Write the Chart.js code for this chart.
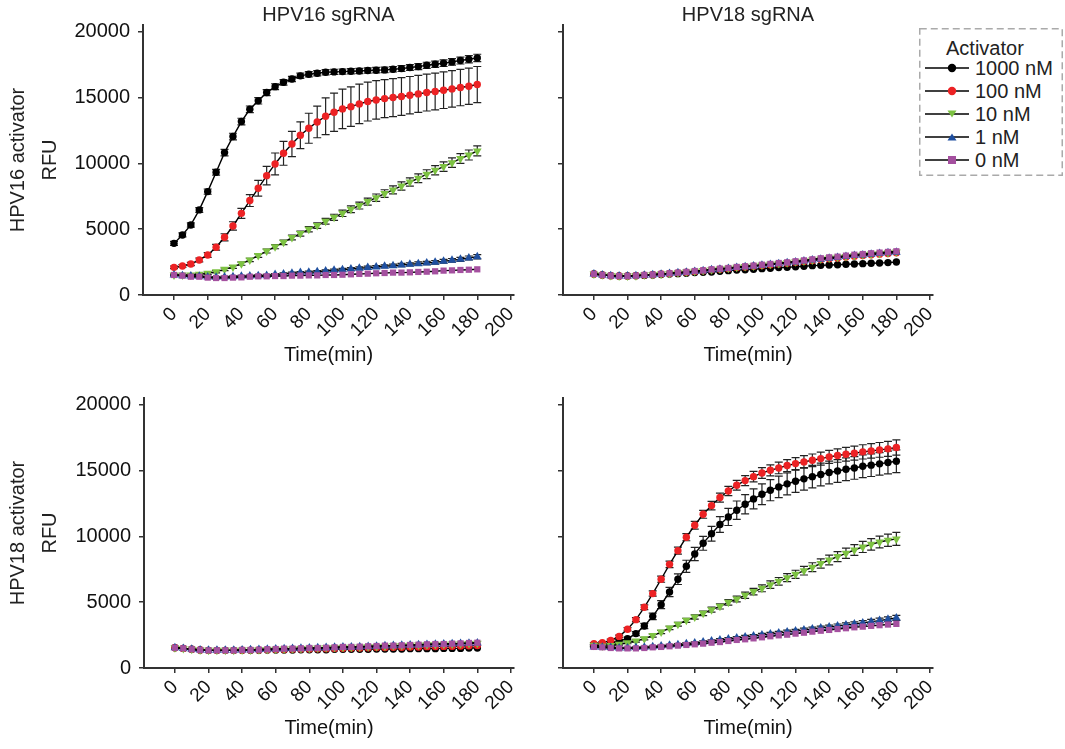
<!DOCTYPE html>
<html>
<head>
<meta charset="utf-8">
<script src="https://cdn.jsdelivr.net/npm/chart.js@4.4.1/dist/chart.umd.min.js"></script>
<style>
  body { margin: 0; background: #fff; font-family: "Liberation Sans", Arial, sans-serif; }
  #wrap { position: relative; width: 1065px; height: 749px; overflow: hidden; }
  canvas { position: absolute; }
  #legend { position: absolute; left: 919px; top: 28px; width: 144px; height: 148px;
            background: #fff; color: #222; font-size: 20px; }
  #legend .frame { position: absolute; left: 0; top: 0; }
  #legend .ttl { position: absolute; left: 27px; top: 8px; line-height: 24px; }
  #legend .row { position: absolute; left: 5px; height: 22px; line-height: 22px; white-space: nowrap; }
  #legend .row svg { position: absolute; left: 0; top: 1px; }
  #legend span { position: absolute; left: 51px; top: 0; }
</style>
</head>
<body>
<div id="wrap">
  <canvas id="tl" width="540" height="375" style="left:0;top:0"></canvas>
  <canvas id="tr" width="420" height="375" style="left:540px;top:0"></canvas>
  <canvas id="bl" width="540" height="375" style="left:0;top:373px"></canvas>
  <canvas id="br" width="420" height="375" style="left:540px;top:373px"></canvas>
  <div id="legend">
    <svg class="frame" width="144" height="148"><rect x="0.75" y="0.75" width="142.5" height="146.5" fill="#fff" stroke="#aaa" stroke-width="1.5" stroke-dasharray="7 4"/></svg>
    <div class="ttl">Activator</div>
  </div>
</div>
<script>
// time points (min)
const times = [0,5,10,15,20,25,30,35,40,45,50,55,60,65,70,75,80,85,90,95,100,105,110,115,120,125,130,135,140,145,150,155,160,165,170,175,180];
const xTicks = [0,20,40,60,80,100,120,140,160,180,200];
const yTicks = [0,5000,10000,15000,20000];

const seriesNames = ['1000 nM','100 nM','10 nM','1 nM','0 nM'];
const seriesColors = ['#000000','#ec2224','#7dc242','#1f4f9f','#a4509f'];
const seriesShapes = ['circle','circle','triangle','triangle','rect'];
const seriesRotation = [0,0,180,0,0];
const seriesRadius = [3.7,3.7,5,5,4.4];

// HPV16 activator / HPV16 sgRNA
const tl1000 = [3920,4560,5320,6460,7850,9320,10810,12030,13170,14100,14740,15370,15820,16150,16400,16640,16760,16840,16910,16940,16960,16990,17010,17040,17070,17090,17140,17190,17270,17340,17440,17520,17600,17700,17800,17900,18000];
const tl100 = [2100,2200,2350,2660,3040,3620,4380,5240,6200,7170,8100,9060,9950,10760,11470,12130,12660,13140,13570,13880,14130,14300,14510,14690,14810,14910,14990,15070,15170,15270,15370,15450,15550,15650,15750,15850,15980];
const tl10 = [1520,1520,1520,1570,1650,1770,1950,2130,2380,2660,2990,3340,3670,4000,4360,4660,4990,5270,5600,5900,6200,6510,6790,7090,7390,7700,7980,8280,8580,8860,9170,9470,9750,10050,10360,10630,10940];
const tl1 = [1520,1470,1440,1420,1370,1340,1370,1390,1420,1440,1470,1490,1550,1600,1650,1700,1720,1770,1820,1870,1920,1980,2030,2080,2130,2180,2230,2280,2330,2380,2430,2480,2560,2630,2710,2810,2910];
const tl0 = [1520,1470,1390,1390,1320,1290,1290,1320,1340,1390,1420,1420,1440,1440,1470,1470,1490,1490,1520,1520,1540,1570,1600,1620,1650,1670,1700,1700,1720,1750,1770,1800,1850,1870,1900,1920,1950];
const tl1000Err = [150,150,160,180,200,220,240,250,250,250,240,230,220,210,200,200,200,200,200,200,200,200,200,200,210,210,210,220,220,230,230,240,250,250,260,270,280];
const tl100Err = [100,100,120,150,180,220,270,320,380,450,600,700,830,910,960,1010,1140,1200,1400,1450,1500,1500,1500,1480,1460,1450,1440,1430,1420,1410,1400,1400,1390,1380,1380,1370,1370];
const tl10Err = [60,60,60,70,80,90,100,110,120,130,140,150,160,170,180,190,200,210,220,230,240,250,260,270,280,290,300,310,320,330,340,350,360,360,370,380,380];
const tl1Err = [60,60,60,60,60,60,60,60,70,70,70,70,80,80,80,80,90,90,90,90,100,100,100,110,110,110,120,120,120,130,130,130,140,140,150,150,160];

// HPV16 activator / HPV18 sgRNA
const tr1000 = [1600,1520,1470,1440,1440,1470,1490,1520,1550,1600,1620,1650,1700,1720,1750,1800,1850,1900,1920,1950,2000,2030,2080,2100,2150,2180,2230,2250,2280,2300,2330,2350,2380,2410,2430,2460,2510];
const tr100 = [1600,1520,1470,1440,1440,1470,1510,1540,1590,1630,1680,1730,1790,1840,1910,1960,2010,2080,2130,2180,2240,2300,2360,2410,2480,2550,2620,2690,2760,2810,2880,2950,3000,3050,3100,3150,3200];
const tr10 = [1600,1530,1480,1450,1450,1470,1510,1550,1590,1640,1690,1740,1800,1860,1920,1980,2030,2100,2160,2210,2270,2330,2400,2450,2520,2590,2660,2730,2800,2860,2930,3000,3050,3110,3160,3210,3260];
const tr1 = [1600,1520,1470,1440,1440,1460,1500,1540,1580,1630,1680,1730,1790,1850,1910,1960,2020,2090,2140,2200,2260,2320,2380,2440,2510,2580,2650,2720,2790,2850,2920,2990,3040,3100,3150,3200,3250];
const tr0 = [1600,1520,1470,1440,1440,1470,1520,1550,1600,1650,1700,1750,1820,1870,1950,2000,2050,2130,2180,2230,2300,2360,2430,2480,2560,2630,2710,2790,2860,2910,2990,3060,3110,3170,3220,3270,3320];

// HPV18 activator / HPV16 sgRNA
const bl1000 = [1540,1490,1420,1370,1340,1340,1340,1340,1340,1340,1340,1370,1370,1370,1370,1390,1390,1390,1390,1420,1420,1420,1420,1420,1440,1440,1440,1440,1470,1470,1470,1470,1490,1490,1490,1520,1520];
const bl100 = [1540,1490,1420,1370,1340,1340,1340,1340,1350,1360,1370,1390,1400,1410,1420,1440,1450,1460,1470,1490,1500,1510,1520,1540,1550,1560,1570,1580,1590,1600,1620,1630,1640,1650,1670,1680,1700];
const bl10 = [1540,1490,1420,1370,1340,1340,1340,1340,1360,1370,1390,1410,1430,1450,1460,1480,1500,1510,1530,1550,1570,1580,1600,1620,1640,1660,1680,1700,1720,1740,1760,1780,1800,1820,1840,1860,1880];
const bl1 = [1540,1490,1420,1370,1340,1340,1340,1340,1370,1380,1400,1420,1440,1460,1480,1500,1510,1530,1550,1570,1590,1600,1620,1640,1660,1680,1700,1720,1740,1760,1780,1800,1820,1840,1860,1880,1900];
const bl0 = [1540,1490,1420,1370,1340,1340,1340,1340,1370,1370,1390,1420,1440,1470,1470,1490,1520,1520,1540,1570,1600,1600,1620,1650,1670,1700,1700,1720,1750,1770,1800,1820,1820,1850,1870,1900,1920];

// HPV18 activator / HPV18 sgRNA
const br1000 = [1720,1770,1900,2050,2230,2610,3190,3920,4810,5770,6740,7720,8660,9470,10200,10890,11470,11980,12430,12840,13190,13500,13750,13980,14180,14360,14530,14690,14840,14960,15090,15190,15320,15400,15500,15600,15700];
const br100 = [1850,1920,2100,2400,2940,3670,4610,5650,6740,7870,8910,9930,10840,11670,12330,12940,13440,13880,14230,14530,14810,15010,15190,15370,15520,15650,15770,15900,16030,16130,16230,16310,16410,16480,16560,16640,16740];
const br10 = [1720,1670,1700,1800,1920,2050,2230,2460,2730,3040,3320,3620,3870,4150,4430,4680,4990,5240,5520,5800,6050,6330,6580,6860,7110,7390,7650,7930,8200,8460,8710,8960,9190,9390,9570,9700,9800];
const br1 = [1600,1570,1550,1520,1520,1550,1570,1620,1670,1720,1770,1850,1900,1980,2050,2130,2200,2280,2360,2430,2510,2580,2660,2740,2810,2890,2960,3040,3110,3190,3270,3340,3420,3520,3600,3700,3800];
const br0 = [1600,1570,1520,1490,1490,1490,1520,1570,1600,1650,1700,1750,1800,1850,1920,1970,2050,2130,2180,2250,2330,2410,2480,2530,2610,2680,2760,2830,2890,2960,3020,3090,3140,3200,3250,3300,3350];
const br1000Err = [80,80,90,100,120,150,200,250,300,350,400,460,500,530,560,600,650,700,730,760,790,800,820,830,840,850,850,860,860,860,860,860,860,860,860,860,860];
const br100Err = [80,80,90,100,120,150,180,200,230,250,260,270,290,300,320,340,350,370,380,400,410,420,440,450,460,470,480,490,500,510,520,530,540,550,560,570,580];
const br10Err = [60,60,60,70,80,90,100,110,120,130,140,150,160,170,190,200,210,220,240,250,260,280,290,300,310,330,340,350,370,380,390,410,420,440,450,470,490];
const br1Err = [60,60,60,60,60,60,70,70,70,80,80,80,90,90,90,100,100,100,110,110,120,120,120,130,130,140,140,140,150,150,160,160,170,170,180,180,190];

const errorBars = {
  id: 'errorBars',
  beforeDatasetsDraw(chart) {
    const {ctx, scales: {x, y}} = chart;
    ctx.save();
    ctx.strokeStyle = '#222';
    ctx.lineWidth = 1.2;
    chart.data.datasets.forEach(ds => {
      if (!ds.errors) return;
      ds.data.forEach((p, i) => {
        const e = ds.errors[i];
        const px = x.getPixelForValue(p.x);
        const top = y.getPixelForValue(p.y + e), bot = y.getPixelForValue(p.y - e);
        ctx.beginPath();
        ctx.moveTo(px, top); ctx.lineTo(px, bot);
        ctx.moveTo(px - 4, top); ctx.lineTo(px + 4, top);
        ctx.moveTo(px - 4, bot); ctx.lineTo(px + 4, bot);
        ctx.stroke();
      });
    });
    ctx.restore();
  }
};

function makePanel(id, values, errors, o) {
  const datasets = values.map((vals, i) => ({
    label: seriesNames[i],
    data: vals.map((v, j) => ({x: times[j], y: v})),
    errors: errors[i],
    order: values.length - 1 - i,
    borderColor: '#000',
    borderWidth: 1.4,
    backgroundColor: seriesColors[i],
    pointBackgroundColor: seriesColors[i],
    pointBorderWidth: 0,
    pointStyle: seriesShapes[i],
    pointRotation: seriesRotation[i],
    pointRadius: seriesRadius[i],
    tension: 0
  }));
  return new Chart(document.getElementById(id), {
    type: 'line',
    data: { datasets },
    options: {
      responsive: false,
      animation: false,
      layout: { padding: { left: 0, top: o.title ? 0 : 25, right: o.right, bottom: 8 } },
      plugins: {
        legend: { display: false },
        tooltip: { enabled: false },
        title: {
          display: !!o.title, text: o.title, fullSize: false, color: '#222',
          font: { family: 'Liberation Sans, Arial', size: 20, weight: 'normal', lineHeight: 1 },
          padding: { top: 5, bottom: 0 }
        }
      },
      scales: {
        x: {
          type: 'linear', min: -18.4, max: 201.8,
          afterBuildTicks: s => { s.ticks = xTicks.map(v => ({value: v})); },
          afterFit: s => { s.height = 72; },
          grid: { drawOnChartArea: false, drawTicks: true, tickLength: 5, color: '#333', lineWidth: 1.5 },
          border: { display: true, color: '#333', width: 2 },
          ticks: { autoSkip: false, minRotation: 45, maxRotation: 45, padding: 3, color: '#111',
                   font: { family: 'Liberation Sans, Arial', size: 19 }, callback: v => String(v) },
          title: { display: true, text: 'Time(min)', color: '#111', padding: { top: 0, bottom: 0 },
                   font: { family: 'Liberation Sans, Arial', size: 20, lineHeight: 1.2 } }
        },
        y: {
          min: 0, max: 20500,
          afterBuildTicks: s => { s.ticks = yTicks.map(v => ({value: v})); },
          afterFit: s => { s.width = o.yWidth; },
          grid: { drawOnChartArea: false, drawTicks: true, tickLength: 5, color: '#333', lineWidth: 1.5 },
          border: { display: true, color: '#333', width: 2 },
          ticks: { padding: 8, color: '#111', font: { family: 'Liberation Sans, Arial', size: 20 },
                   callback: v => o.yLabels ? String(v) : '' },
          title: { display: !!o.row, text: o.row ? [o.row, 'RFU'] : '', color: '#222',
                   padding: { top: 2, bottom: 0 },
                   font: { family: 'Liberation Sans, Arial', size: 20, lineHeight: 1.6 } }
        }
      }
    },
    plugins: [errorBars]
  });
}

makePanel('tl', [tl1000, tl100, tl10, tl1, tl0], [tl1000Err, tl100Err, tl10Err, tl1Err, null],
  { title: 'HPV16 sgRNA', row: 'HPV16 activator', yLabels: true, yWidth: 143, right: 26 });
makePanel('tr', [tr1000, tr100, tr10, tr1, tr0], [null, null, null, null, null],
  { title: 'HPV18 sgRNA', row: null, yLabels: false, yWidth: 23, right: 27 });
makePanel('bl', [bl1000, bl100, bl10, bl1, bl0], [null, null, null, null, null],
  { title: null, row: 'HPV18 activator', yLabels: true, yWidth: 144, right: 26 });
makePanel('br', [br1000, br100, br10, br1, br0], [br1000Err, br100Err, br10Err, br1Err, null],
  { title: null, row: null, yLabels: false, yWidth: 23, right: 27 });

// legend
const legend = document.getElementById('legend');
seriesNames.forEach((name, i) => {
  const row = document.createElement('div');
  row.className = 'row';
  row.style.top = (29 + i * 23) + 'px';
  const c = seriesColors[i];
  let mark;
  if (seriesShapes[i] === 'circle') mark = `<circle cx="28" cy="10" r="4.2" fill="${c}"/>`;
  else if (seriesShapes[i] === 'rect') mark = `<rect x="24" y="6" width="8" height="8" fill="${c}"/>`;
  else if (seriesRotation[i] === 180) mark = `<polygon points="23.5,6.5 32.5,6.5 28,13.5" fill="${c}"/>`;
  else mark = `<polygon points="23.5,13.5 32.5,13.5 28,6.5" fill="${c}"/>`;
  row.innerHTML = `<svg width="46" height="20"><line x1="1" y1="10" x2="45" y2="10" stroke="#000" stroke-width="1.4"/>${mark}</svg><span>${name}</span>`;
  legend.appendChild(row);
});
</script>
</body>
</html>
